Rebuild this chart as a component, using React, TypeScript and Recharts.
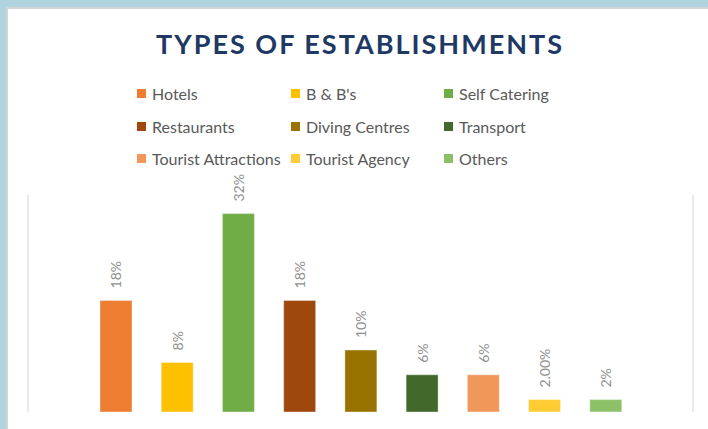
import React from 'react';
import { BarChart, Bar, XAxis, YAxis, CartesianGrid, Cell, LabelList } from 'recharts';

const categories = ['Hotels', "B & B's", 'Self Catering', 'Restaurants', 'Diving Centres', 'Transport', 'Tourist Attractions', 'Tourist Agency', 'Others'];
const shares = [18, 8, 32, 18, 10, 6, 6, 2, 2];
const shareLabels = ['18%', '8%', '32%', '18%', '10%', '6%', '6%', '2.00%', '2%'];
const colors = ['#ED7D31', '#FFC000', '#70AD47', '#9E480E', '#997300', '#43682B', '#F1975A', '#FFCD33', '#8CC168'];
const title = 'TYPES OF ESTABLISHMENTS';

const data = categories.map((name, i) => ({ name, value: shares[i], label: shareLabels[i] }));

const FONT = 'Lato, "Open Sans", sans-serif';

const renderLabel = (props: any) => {
  const { x, y, width, index } = props;
  const cx = Number(x) + Number(width) / 2;
  const ty = Number(y) - 12;
  return (
    <text
      x={cx}
      y={ty}
      transform={`rotate(-90, ${cx}, ${ty})`}
      textAnchor="start"
      dominantBaseline="central"
      fill="#8f8f8f"
      fontSize={14}
      fontFamily={FONT}
    >
      {shareLabels[index]}
    </text>
  );
};

export default function App() {
  const colX = [137, 291, 444];
  const rowY = [93, 126, 158];
  return (
    <div style={{ position: 'absolute', left: 0, top: 0, width: 708, height: 429, background: '#b0d4de', overflow: 'hidden' }}>
      <div
        style={{
          position: 'absolute',
          left: 6,
          top: 7,
          width: 702,
          height: 422,
          background: '#ffffff',
          borderLeft: '2px solid #d4d4d4',
          borderTop: '2px solid #d4d4d4',
          boxSizing: 'border-box',
        }}
      />
      <div
        style={{
          position: 'absolute',
          left: 0,
          top: 27,
          width: 720,
          textAlign: 'center',
          fontFamily: FONT,
          fontWeight: 700,
          fontSize: 27,
          letterSpacing: 2.0,
          color: '#203864',
          lineHeight: '34px',
        }}
      >
        {title}
      </div>
      {categories.map((c, i) => {
        const col = i % 3;
        const row = Math.floor(i / 3);
        return (
          <div
            key={c}
            style={{
              position: 'absolute',
              left: colX[col],
              top: rowY[row] - 10,
              height: 20,
              display: 'flex',
              alignItems: 'center',
              fontFamily: FONT,
              fontSize: 16,
              color: '#595959',
              whiteSpace: 'nowrap',
            }}
          >
            <span style={{ display: 'inline-block', width: 9, height: 9, background: colors[i], marginRight: 6 }} />
            <span>{c}</span>
          </div>
        );
      })}
      <div style={{ position: 'absolute', left: 0, top: 0 }}>
        <BarChart width={708} height={429} data={data} margin={{ top: 195, right: 15, bottom: 17, left: 28 }}>
          <CartesianGrid horizontal={false} verticalPoints={[28, 693]} stroke="#e3e3e3" strokeWidth={1.5} />
          <XAxis dataKey="name" hide padding={{ left: 57, right: 57 }} />
          <YAxis hide domain={[0, 35]} />
          <Bar dataKey="value" barSize={32} isAnimationActive={false} stroke="#ffffff" strokeOpacity={0.5} strokeWidth={0.8}>
            {data.map((d, i) => (
              <Cell key={d.name} fill={colors[i]} />
            ))}
            <LabelList dataKey="label" content={renderLabel} />
          </Bar>
        </BarChart>
      </div>
    </div>
  );
}
